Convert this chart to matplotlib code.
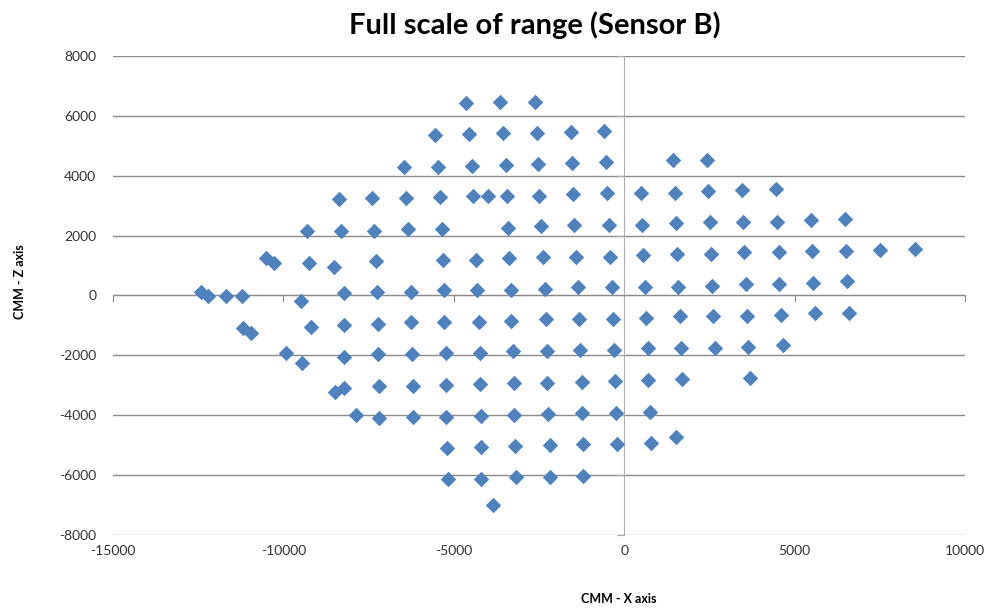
import matplotlib
matplotlib.use('Agg')
import matplotlib.pyplot as plt

plt.rcParams['font.family'] = ['Lato', 'DejaVu Sans']
plt.rcParams['axes.unicode_minus'] = False

# CMM X / Z coordinates of the sensor B measurement points (row by row, top to bottom)
cmm_x = [
    -4640, -3640, -2610,
    -5550, -4550, -3550, -2550, -1560, -590,
    -6460, -5460, -4460, -3460, -2520, -1530, -530, 1440, 2440,
    -8360, -7390, -6400, -5400, -4430, -3990, -3430, -2490, -1500, -500, 500, 1500, 2460, 3460, 4460,
    -9300, -8300, -7340, -6340, -5340, -3400, -2440, -1470, -440, 530, 1530, 2520, 3490, 4490, 5490, 6480,
    -10500, -10270, -9240, -8510, -7280, -5310, -4340, -3370, -2380, -1410, -410, 560, 1560, 2550, 3520,
    4550, 5520, 6510, 7510, 8540,
    -12410, -12210, -11680, -11210, -9480, -8220, -7250, -6250, -5280, -4310, -3320, -2320, -1350, -350,
    620, 1580, 2580, 3580, 4550, 5550, 6540,
    -11180, -10940, -9180, -8220, -7220, -6250, -5280, -4250, -3320, -2290, -1320, -320, 650, 1640, 2610,
    3610, 4610, 5600, 6600,
    -9920, -9450, -8220, -7220, -6220, -5220, -4230, -3260, -2260, -1290, -290, 700, 1670, 2670, 3640, 4670,
    -8480, -8220, -7190, -6190, -5220, -4230, -3230, -2260, -1230, -260, 700, 1700, 3700,
    -7860, -7190, -6190, -5220, -4200, -3230, -2230, -1230, -230, 760,
    -5190, -4200, -3200, -2170, -1200, -210, 790, 1530,
    -5160, -4200, -3170, -2170, -1200,
    -3840,
]
cmm_z = [
    6430, 6450, 6480,
    5350, 5380, 5420, 5420, 5450, 5480,
    4290, 4290, 4310, 4350, 4380, 4410, 4450, 4520, 4530,
    3210, 3240, 3240, 3280, 3310, 3310, 3310, 3340, 3380, 3410, 3410, 3440, 3480, 3510, 3550,
    2140, 2170, 2170, 2210, 2210, 2270, 2310, 2340, 2350, 2370, 2410, 2440, 2440, 2470, 2510, 2540,
    1240, 1070, 1070, 940, 1140, 1170, 1200, 1240, 1270, 1270, 1300, 1340, 1370, 1400, 1440,
    1440, 1470, 1470, 1510, 1540,
    130, -30, -30, -30, -170, 70, 100, 130, 170, 170, 200, 230, 270, 270,
    300, 300, 330, 400, 400, 430, 470,
    -1070, -1240, -1040, -970, -940, -900, -870, -870, -840, -800, -770, -770, -740, -700, -700,
    -670, -640, -600, -600,
    -1910, -2240, -2040, -1970, -1940, -1910, -1910, -1870, -1840, -1810, -1810, -1770, -1740, -1740, -1710, -1670,
    -3240, -3080, -3040, -3010, -2980, -2940, -2910, -2910, -2880, -2840, -2810, -2780, -2740,
    -3980, -4080, -4050, -4050, -4010, -3980, -3950, -3910, -3910, -3880,
    -5080, -5050, -5020, -4980, -4950, -4950, -4920, -4720,
    -6120, -6120, -6050, -6050, -6020,
    -6990,
]

x_ticks = list(range(-15000, 10001, 5000))
z_ticks = list(range(-8000, 8001, 2000))

fig = plt.figure(figsize=(9.88, 6.14), dpi=100)
ax = fig.add_axes([0.1144, 0.1287, 0.8623, 0.7801])

ax.scatter(cmm_x, cmm_z, marker='D', s=62, color='#4F81BD', linewidths=0, zorder=3)

ax.set_xlim(-15000, 10000)
ax.set_ylim(-8000, 8000)
ax.set_xticks(x_ticks)
ax.set_yticks(z_ticks)

# horizontal gridlines (the two lowest ones are not visible in the original)
ax.grid(axis='y', color='#8c8c8c', linewidth=1)
ax.set_axisbelow(True)
for gl in ax.yaxis.get_gridlines()[:2]:
    gl.set_visible(False)

# axes cross at zero, like the Excel chart
ax.spines['top'].set_visible(False)
ax.spines['right'].set_visible(False)
ax.spines['left'].set_position(('data', 0))
ax.spines['bottom'].set_position(('data', 0))
ax.spines['left'].set_color('#b0b0b0')
ax.spines['bottom'].set_color('#8c8c8c')
ax.tick_params(axis='x', direction='out', length=5, color='#8c8c8c', labelbottom=False)
ax.tick_params(axis='y', direction='out', length=5, color='#b0b0b0', labelleft=False)

# tick labels sit at the low edge of the plot
secx = ax.secondary_xaxis('bottom')
secx.set_xticks(x_ticks)
secx.spines['bottom'].set_visible(False)
secx.tick_params(length=0, pad=7, labelsize=10, labelcolor='#333333')

secy = ax.secondary_yaxis('left')
secy.set_yticks(z_ticks)
secy.spines['left'].set_visible(False)
secy.tick_params(length=0, pad=12, labelsize=10, labelcolor='#333333')

fig.text(535 / 988, 1 - 25 / 614, 'Full scale of range (Sensor B)', ha='center', va='center',
         fontsize=21, fontweight='bold')
fig.text(619 / 988, 1 - 599 / 614, 'CMM - X axis', ha='center', va='center',
         fontsize=9, fontweight='bold')
fig.text(20 / 988, 1 - 282 / 614, 'CMM - Z axis', ha='center', va='center', rotation=90,
         fontsize=9, fontweight='bold')

fig.savefig('out.png', dpi=100)
